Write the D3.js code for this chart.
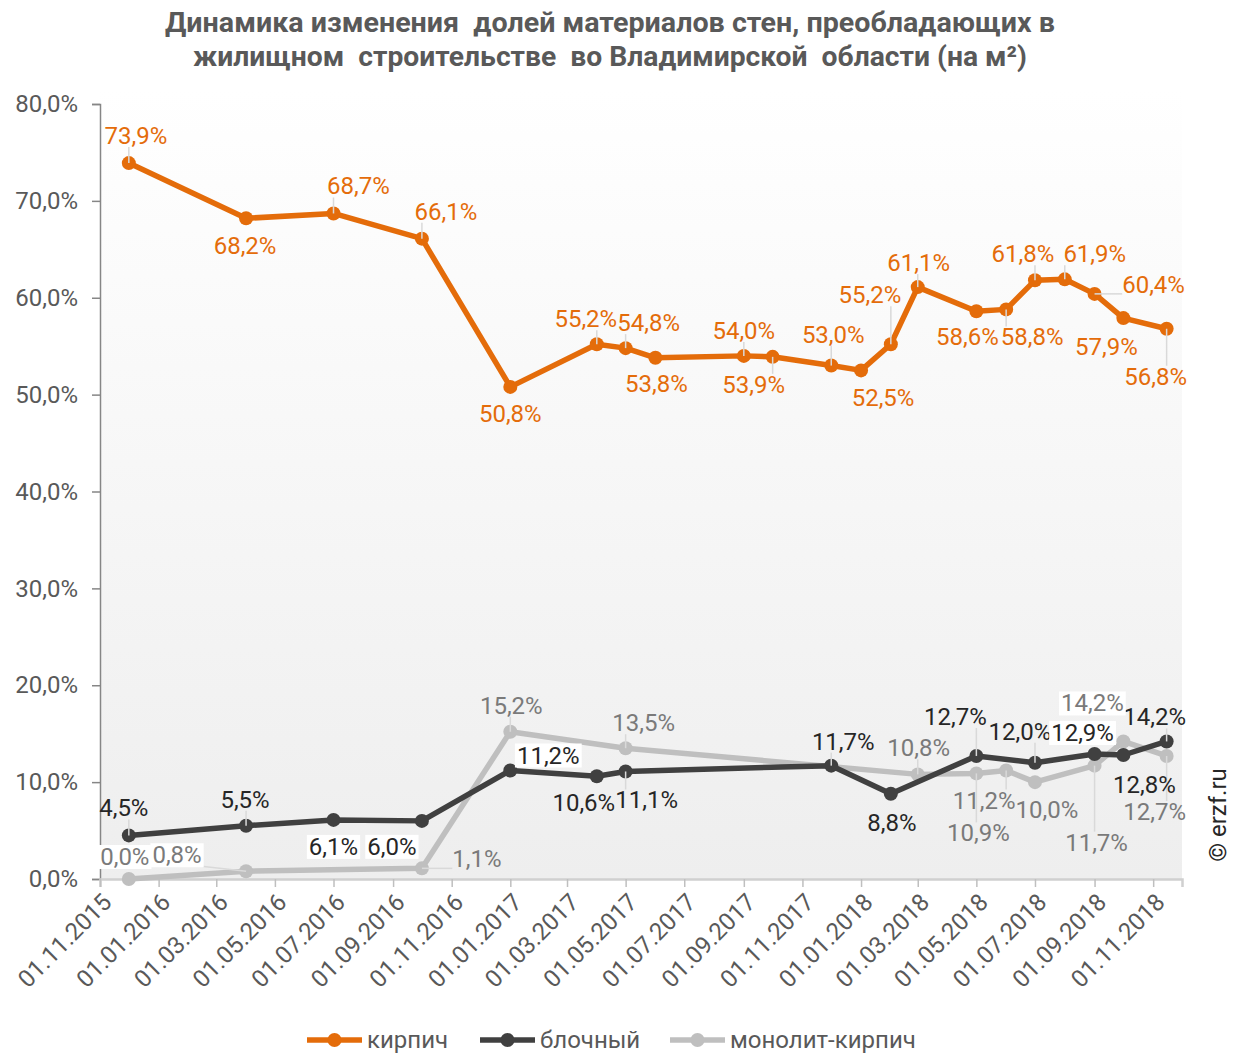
<!DOCTYPE html>
<html><head><meta charset="utf-8">
<script src="https://cdn.jsdelivr.net/npm/d3@7"></script>
<style>body{margin:0;background:#fff;} svg{font-family:Roboto, "Noto Sans", sans-serif;}</style>
</head><body>
<svg id="chart" width="1246" height="1054"></svg>
<script>
// ---------- DATA ----------
const titleLines = ["Динамика изменения  долей материалов стен, преобладающих в", "жилищном  строительстве  во Владимирской  области (на м²)"];
const seriesNames = ["кирпич", "блочный", "монолит-кирпич"];
const brickDates = ["2015-12-01","2016-04-01","2016-07-01","2016-10-01","2017-01-01","2017-04-01","2017-05-01","2017-06-01","2017-09-01","2017-10-01","2017-12-01","2018-01-01","2018-02-01","2018-03-01","2018-05-01","2018-06-01","2018-07-01","2018-08-01","2018-09-01","2018-10-01","2018-11-15"];
const brickValues = [73.9,68.2,68.7,66.1,50.8,55.2,54.8,53.8,54.0,53.9,53.0,52.5,55.2,61.1,58.6,58.8,61.8,61.9,60.4,57.9,56.8];
const blockDates = ["2015-12-01","2016-04-01","2016-07-01","2016-10-01","2017-01-01","2017-04-01","2017-05-01","2017-12-01","2018-02-01","2018-05-01","2018-07-01","2018-09-01","2018-10-01","2018-11-15"];
const blockValues = [4.5,5.5,6.1,6.0,11.2,10.6,11.1,11.7,8.8,12.7,12.0,12.9,12.8,14.2];
const monoDates = ["2015-12-01","2016-04-01","2016-10-01","2017-01-01","2017-05-01","2018-03-01","2018-05-01","2018-06-01","2018-07-01","2018-09-01","2018-10-01","2018-11-15"];
const monoValues = [0.0,0.8,1.1,15.2,13.5,10.8,10.9,11.2,10.0,11.7,14.2,12.7];
const yTickValues = [0,10,20,30,40,50,60,70,80];
const xDomain = ["2015-11-01","2018-12-01"];
const xTickRange = ["2015-11-01","2018-11-01"];
const watermark = "© erzf.ru";

// ---------- LABEL PLACEMENT (dx, dy from point, white box, leader line) ----------
const brickLabelPos = [[7,-27,0,1],[-1,28,0,0],[25,-27,0,1],[24,-27,0,1],[0,27,0,0],[-11,-25,0,1],[23,-25,0,1],[1,26,0,0],[0,-25,0,1],[-19,28,0,1],[2,-31,0,1],[22,28,0,0],[-21,-49,0,1],[1,-24,0,1],[-9,26,0,0],[26,28,0,1],[-12,-26,0,1],[30,-25,0,1],[59,-9,0,1],[-17,29,0,0],[-11,48,0,1]];
const blockLabelPos = [[-5,-27,0,1],[-1,-26,0,1],[0,27,1,0],[-30,26,1,0],[38,-15,1,0],[-13,27,0,0],[21,29,0,1],[12,-24,0,1],[1,29,0,0],[-21,-39,0,1],[-15,-31,0,1],[-12,-21,1,0],[21,30,0,0],[-12,-24,0,1]];
const monoLabelPos = [[-4,-22,1,0],[-69,-16,1,1],[55,-9,0,1],[1,-26,0,1],[18,-25,0,1],[1,-26,0,1],[2,60,0,1],[-22,30,0,1],[12,28,0,0],[2,77,0,1],[-31,-38,1,0],[-12,56,0,1]];

// ---------- CHART ----------
const svg = d3.select("#chart");
const plot = {left: 100, right: 1182, top: 104, bottom: 879};
const parse = d3.timeParse("%Y-%m-%d");
const fmtTick = d3.timeFormat("%d.%m.%Y");
const fmtVal = v => v.toFixed(1).replace(".", ",") + "%";
const FS = 24;

const x = d3.scaleTime().domain(xDomain.map(parse)).range([plot.left, plot.right]);
const y = d3.scaleLinear().domain([0, 80]).range([plot.bottom, plot.top]);

const series = [
  {name: seriesNames[0], dates: brickDates, values: brickValues, pos: brickLabelPos, color: "#E46C0A", text: "#E46C0A"},
  {name: seriesNames[1], dates: blockDates, values: blockValues, pos: blockLabelPos, color: "#404040", text: "#262626"},
  {name: seriesNames[2], dates: monoDates, values: monoValues, pos: monoLabelPos, color: "#BFBFBF", text: "#7A7A7A"}
].map(s => ({...s, points: s.dates.map((d, i) => ({date: parse(d), value: s.values[i], pos: s.pos[i]}))}));

// background gradient
const defs = svg.append("defs");
const grad = defs.append("linearGradient").attr("id", "bg").attr("x1", 0).attr("y1", 0).attr("x2", 0).attr("y2", 1);
grad.append("stop").attr("offset", "0%").attr("stop-color", "#ffffff");
grad.append("stop").attr("offset", "100%").attr("stop-color", "#eeeeee");
svg.append("rect").attr("x", plot.left).attr("y", 90).attr("width", plot.right - plot.left).attr("height", plot.bottom - 90).attr("fill", "url(#bg)");

// title
const titleWidths = [890, 834];
svg.append("g").selectAll("text").data(titleLines).join("text")
  .attr("x", 610).attr("y", (d, i) => 22 + i * 34)
  .attr("text-anchor", "middle").attr("dominant-baseline", "central")
  .attr("font-size", 28).attr("font-weight", "bold").attr("fill", "#595959")
  .attr("textLength", (d, i) => titleWidths[i]).attr("lengthAdjust", "spacingAndGlyphs")
  .style("white-space", "pre").text(d => d);

// y axis
const yAxis = svg.append("g").attr("transform", `translate(${plot.left},0)`)
  .call(d3.axisLeft(y).tickValues(yTickValues).tickSize(8).tickPadding(14).tickFormat(fmtVal));
yAxis.select(".domain").attr("stroke", "#868686").attr("stroke-width", 1.5);
yAxis.selectAll(".tick line").attr("stroke", "#868686").attr("stroke-width", 1.5);
yAxis.selectAll(".tick text").attr("font-size", FS).attr("fill", "#595959").attr("font-family", "Roboto");

// x axis
const xTicks = d3.timeMonth.every(2).range(parse(xTickRange[0]), d3.timeDay.offset(parse(xTickRange[1]), 1));
const xAxis = svg.append("g").attr("transform", `translate(0,${plot.bottom})`)
  .call(d3.axisBottom(x).tickValues(xTicks).tickSize(8).tickFormat(fmtTick));
xAxis.select(".domain").attr("stroke", "#D0D0D0").attr("stroke-width", 2.5);
xAxis.selectAll(".tick line").attr("stroke", "#BFBFBF").attr("stroke-width", 1.5);
xAxis.selectAll(".tick text")
  .attr("font-size", FS).attr("fill", "#595959").attr("font-family", "Roboto")
  .attr("text-anchor", "end").attr("dy", null).attr("y", null)
  .attr("transform", "translate(7,19) rotate(-45)").attr("dominant-baseline", "central");

// lines and markers
const line = d3.line().x(d => x(d.date)).y(d => y(d.value));
const order = [2, 1, 0];
const gLines = svg.append("g");
order.forEach(k => {
  const s = series[k];
  gLines.append("path").datum(s.points).attr("d", line).attr("fill", "none")
    .attr("stroke", s.color).attr("stroke-width", 5.5).attr("stroke-linejoin", "round");
  gLines.append("g").selectAll("circle").data(s.points).join("circle")
    .attr("cx", d => x(d.date)).attr("cy", d => y(d.value)).attr("r", 7).attr("fill", s.color);
});

// labels
const gLead = svg.append("g");
const gLab = svg.append("g");
series.forEach(s => {
  s.points.forEach(p => {
    const px = x(p.date), py = y(p.value);
    const [dx, dy, bg, lead] = p.pos;
    const g = gLab.append("g");
    const t = g.append("text").attr("x", px + dx).attr("y", py + dy)
      .attr("text-anchor", "middle").attr("dominant-baseline", "central")
      .attr("font-size", FS).attr("fill", s.text).text(fmtVal(p.value));
    const bb = t.node().getBBox();
    if (bg) {
      g.insert("rect", "text").attr("x", bb.x - 2).attr("y", bb.y + 2).attr("width", bb.width + 4).attr("height", bb.height - 4).attr("fill", "#ffffff");
    }
    if (lead) {
      const bx = Math.max(bb.x, Math.min(px, bb.x + bb.width));
      const by = Math.max(bb.y + 3, Math.min(py, bb.y + bb.height - 3));
      gLead.append("line").attr("x1", px).attr("y1", py).attr("x2", bx).attr("y2", by)
        .attr("stroke", "#D9D9D9").attr("stroke-width", 1.5);
    }
  });
});

// legend
const legendX = [307, 480, 670];
const lg = svg.append("g");
series.forEach((s, i) => {
  const g = lg.append("g").attr("transform", `translate(${legendX[i]},1040)`);
  g.append("line").attr("x1", 0).attr("x2", 55).attr("stroke", s.color).attr("stroke-width", 5.5);
  g.append("circle").attr("cx", 27.5).attr("r", 7).attr("fill", s.color);
  g.append("text").attr("x", 60).attr("dominant-baseline", "central").attr("font-size", FS).attr("fill", "#595959").text(s.name);
});

// watermark
svg.append("text").attr("transform", "translate(1218,815) rotate(-90)")
  .attr("text-anchor", "middle").attr("dominant-baseline", "central")
  .attr("font-size", FS).attr("fill", "#262626").text(watermark);
</script>
</body></html>
